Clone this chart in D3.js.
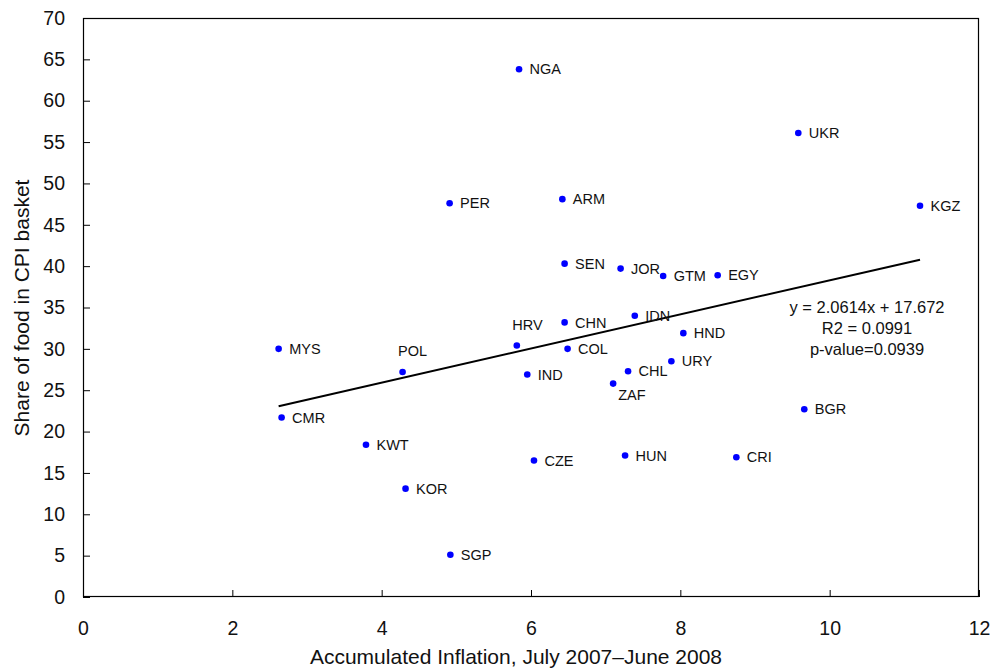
<!DOCTYPE html>
<html>
<head>
<meta charset="utf-8">
<script src="https://cdn.jsdelivr.net/npm/d3@7/dist/d3.min.js"></script>
<style>
  html, body { margin: 0; padding: 0; background: #fff; }
  svg { display: block; font-family: "Liberation Sans", Arial, sans-serif; }
</style>
</head>
<body>
<svg id="chart" width="993" height="671"></svg>
<script>
// Country codes with accumulated inflation (x) and food share of the CPI basket (y)
const countries = ["NGA","UKR","KGZ","PER","ARM","SEN","JOR","GTM","EGY","IDN",
                   "HRV","CHN","HND","COL","MYS","POL","IND","CHL","URY","ZAF",
                   "BGR","CMR","KWT","CZE","HUN","CRI","KOR","SGP"];
const inflation = [5.84, 9.58, 11.21, 4.91, 6.42, 6.45, 7.20, 7.77, 8.50, 7.39,
                   5.81, 6.45, 8.04, 6.49, 2.62, 4.28, 5.95, 7.30, 7.88, 7.10,
                   9.66, 2.66, 3.79, 6.04, 7.26, 8.75, 4.32, 4.92];
const foodShare = [63.8, 56.1, 47.3, 47.6, 48.1, 40.3, 39.7, 38.8, 38.9, 34.0,
                   30.4, 33.2, 31.9, 30.0, 30.0, 27.2, 26.9, 27.3, 28.5, 25.8,
                   22.7, 21.7, 18.4, 16.5, 17.1, 16.9, 13.1, 5.1];

// Fitted trend line and its statistics
const slope = 2.0614, intercept = 17.672;
const statLines = ["y = 2.0614x + 17.672", "R2 = 0.0991", "p-value=0.0939"];

const xTicks = [0, 2, 4, 6, 8, 10, 12];
const yTicks = [0, 5, 10, 15, 20, 25, 30, 35, 40, 45, 50, 55, 60, 65, 70];

// Labels drawn above or below their dot instead of to the right
const labelAbove = new Set(["HRV", "POL"]);
const labelBelow = new Set(["ZAF"]);

const svg = d3.select("#chart");
const m = { left: 83, top: 18, right: 979, bottom: 597 };

const x = d3.scaleLinear().domain([0, 12]).range([m.left, m.right]);
const y = d3.scaleLinear().domain([0, 70]).range([m.bottom, m.top]);

// Axes with inward ticks
const xAxis = svg.append("g")
  .attr("transform", `translate(0,${m.bottom})`)
  .call(d3.axisBottom(x).tickValues(xTicks).tickSizeInner(-7).tickSizeOuter(0).tickPadding(24.5));
const yAxis = svg.append("g")
  .attr("transform", `translate(${m.left},0)`)
  .call(d3.axisLeft(y).tickValues(yTicks).tickSizeInner(-7).tickSizeOuter(0).tickPadding(18));

[xAxis, yAxis].forEach(g => {
  g.select(".domain").remove();
  g.selectAll(".tick line").attr("stroke", "#000").attr("stroke-width", 1);
  g.selectAll(".tick text")
    .attr("fill", "#111")
    .style("font-size", "19.5px")
    .style("font-family", "'Liberation Sans', Arial, sans-serif");
});

// Plot frame
svg.append("rect")
  .attr("x", m.left + 0.5).attr("y", m.top + 0.5)
  .attr("width", m.right - m.left - 1).attr("height", m.bottom - m.top - 1)
  .attr("fill", "none").attr("stroke", "#000").attr("stroke-width", 1.2);

// Axis titles
svg.append("text")
  .attr("x", 516).attr("y", 664)
  .attr("text-anchor", "middle")
  .style("font-size", "21px").attr("fill", "#111")
  .text("Accumulated Inflation, July 2007\u2013June 2008");

svg.append("text")
  .attr("transform", "translate(29,308) rotate(-90)")
  .attr("text-anchor", "middle")
  .style("font-size", "21px").attr("fill", "#111")
  .text("Share of food in CPI basket");

// Trend line over the observed inflation range
const xMin = d3.min(inflation), xMax = d3.max(inflation);
svg.append("line")
  .attr("x1", x(xMin)).attr("y1", y(slope * xMin + intercept))
  .attr("x2", x(xMax)).attr("y2", y(slope * xMax + intercept))
  .attr("stroke", "#000").attr("stroke-width", 2);

const data = countries.map((c, i) => ({ c, x: inflation[i], y: foodShare[i] }));

// Points
svg.append("g").selectAll("circle").data(data).join("circle")
  .attr("cx", d => x(d.x)).attr("cy", d => y(d.y))
  .attr("r", 3.3).attr("fill", "#0000ff");

// Country labels
svg.append("g").selectAll("text").data(data).join("text")
  .attr("x", d => labelAbove.has(d.c) ? x(d.x) - 4.5 : labelBelow.has(d.c) ? x(d.x) + 5 : x(d.x) + 10.5)
  .attr("y", d => labelAbove.has(d.c) ? y(d.y) - 16 : labelBelow.has(d.c) ? y(d.y) + 16.5 : y(d.y) + 5.2)
  .style("font-size", "14.5px").attr("fill", "#111")
  .text(d => d.c);

// Regression statistics
svg.append("g").selectAll("text").data(statLines).join("text")
  .attr("x", 867).attr("y", (d, i) => 312.5 + i * 21.3)
  .attr("text-anchor", "middle")
  .style("font-size", "16.5px").attr("fill", "#111")
  .text(d => d);
</script>
</body>
</html>
